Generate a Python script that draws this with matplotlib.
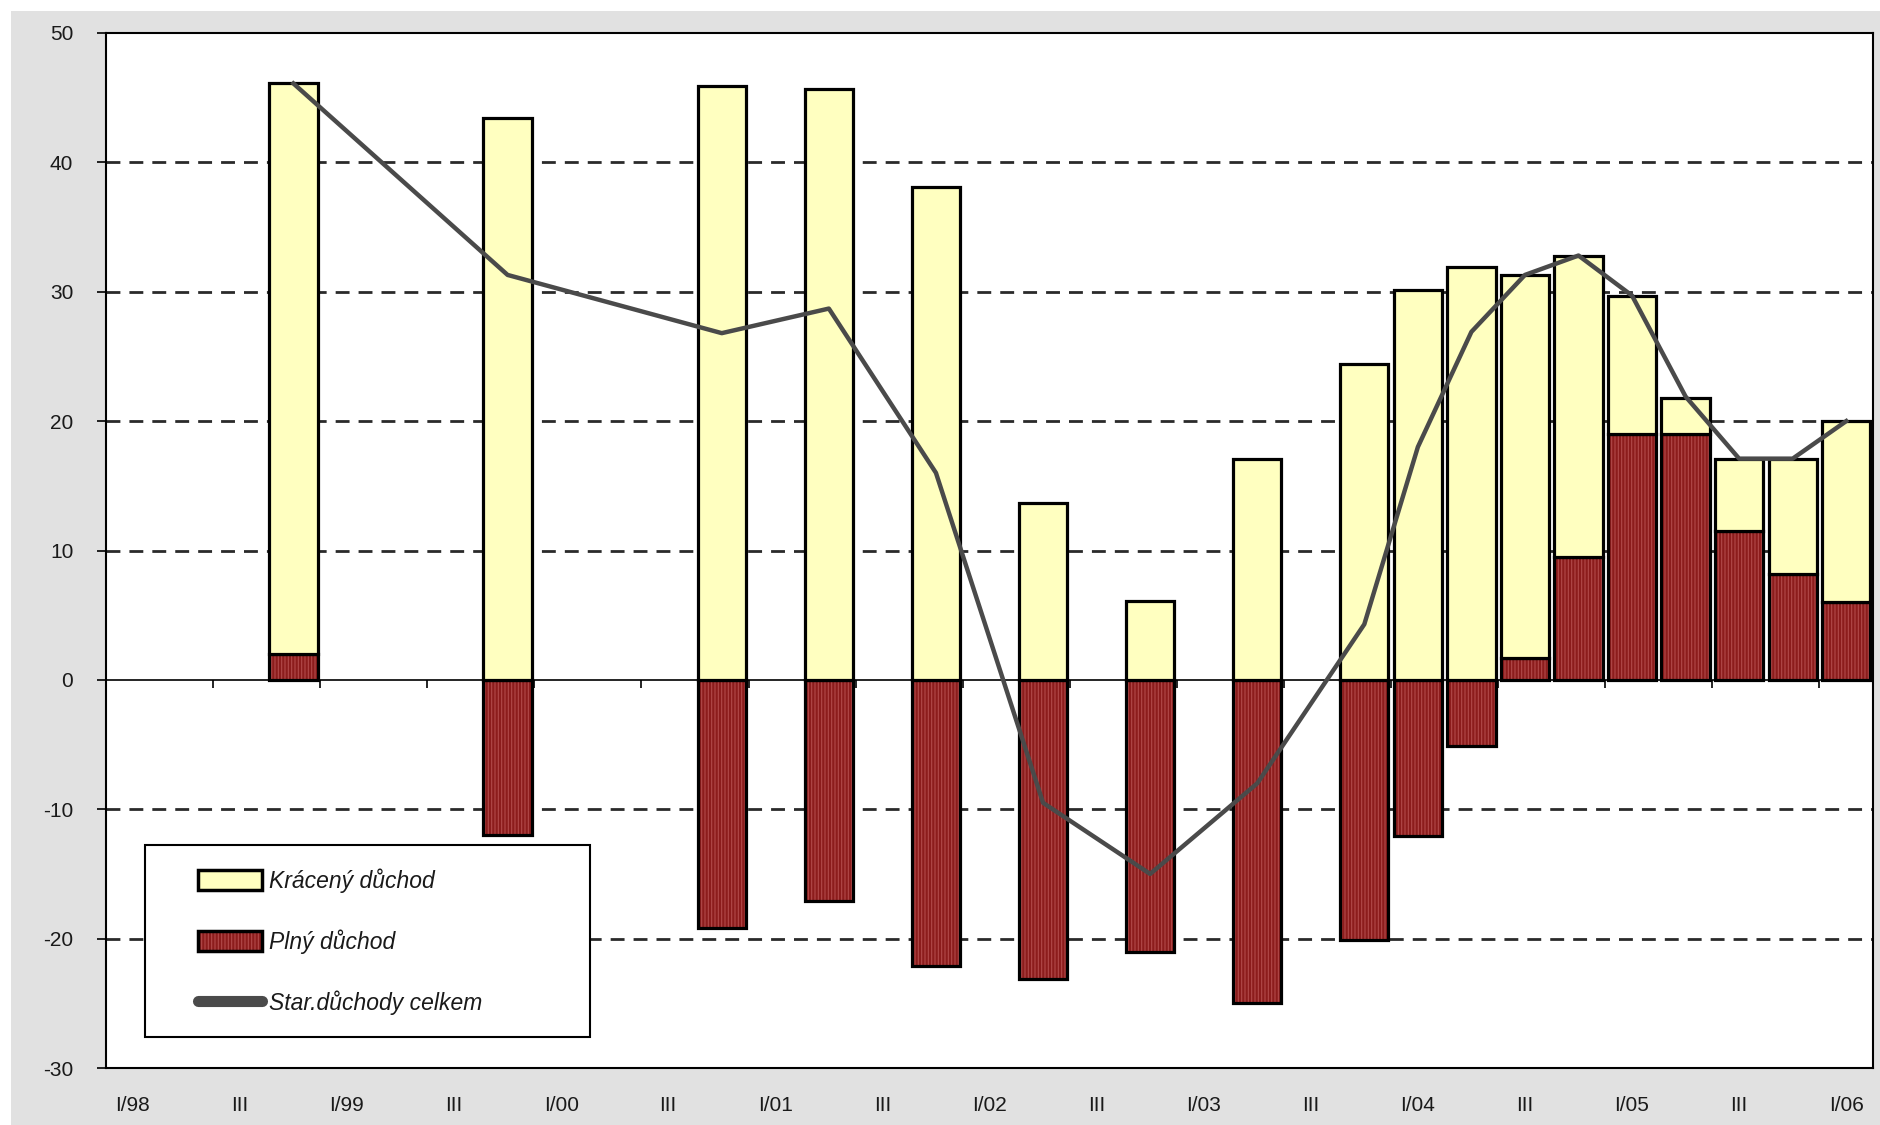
import numpy as np
import matplotlib.pyplot as plt
from matplotlib.patches import Patch, Rectangle
from matplotlib.lines import Line2D

plt.rcParams['font.family'] = ['Liberation Sans', 'DejaVu Sans']
plt.rcParams['hatch.linewidth'] = 0.8
plt.rcParams['axes.unicode_minus'] = False

# all quarters on the category axis, I/98 .. I/06
quarters = [f"{q}/{y:02d}" for y in [98, 99, 0, 1, 2, 3, 4, 5] for q in ["I", "II", "III", "IV"]] + ["I/06"]
tick_labels = ["I/98", "III", "I/99", "III", "I/00", "III", "I/01", "III", "I/02",
               "III", "I/03", "III", "I/04", "III", "I/05", "III", "I/06"]

# quarters with data
bar_quarters = ["IV/98", "IV/99", "IV/00", "II/01", "IV/01", "II/02", "IV/02", "II/03", "IV/03",
                "I/04", "II/04", "III/04", "IV/04", "I/05", "II/05", "III/05", "IV/05", "I/06"]
plny = [2.0, -12.0, -19.2, -17.1, -22.1, -23.1, -21.0, -25.0, -20.1,
        -12.1, -5.1, 1.7, 9.5, 19.0, 19.0, 11.5, 8.2, 6.0]
kraceny = [44.1, 43.4, 45.9, 45.7, 38.1, 13.7, 6.1, 17.1, 24.4,
           30.1, 31.9, 29.6, 23.3, 10.7, 2.8, 5.6, 8.9, 14.0]
celkem = [46.1, 31.3, 26.8, 28.7, 16.0, -9.5, -15.0, -8.0, 4.3,
          18.0, 26.9, 31.3, 32.8, 29.7, 21.9, 17.1, 17.1, 20.0]

YELLOW = '#ffffc0'
RED = '#8c1c1c'
STRIPE = '#b24a4a'
LINE = '#4a4a4a'
W, H = 1881, 1125

fig = plt.figure(figsize=(W / 100, H / 100), dpi=100, facecolor='white')
fig.patches.append(Rectangle((11 / W, 0), 1, 1 - 11 / H, transform=fig.transFigure,
                             facecolor='#e1e1e1', edgecolor='none', zorder=-10))
ax = fig.add_axes([106 / W, 57 / H, 1767 / W, 1035 / H])
ax.set_facecolor('white')

x = np.array([quarters.index(q) for q in bar_quarters])
plny = np.array(plny)
kr_bottom = np.where(plny > 0, plny, 0)

# gridlines and zero axis
for lev in [-20, -10, 10, 20, 30, 40]:
    ax.axhline(lev, color='#2a2a2a', lw=2, ls=(0, (5, 3.25)), zorder=1)
ax.axhline(0, color='black', lw=1.2, zorder=1.5)
ax.vlines(np.arange(1.5, 32, 2), -0.6, 0, color='black', lw=1.2, zorder=1.5)

# bars
ax.bar(x, plny, width=0.9, color=RED, edgecolor=STRIPE, linewidth=0, hatch='|||||', zorder=2)
ax.bar(x, plny, width=0.9, fill=False, edgecolor='black', linewidth=2.3, zorder=2.1)
ax.bar(x, kraceny, bottom=kr_bottom, width=0.9, color=YELLOW, edgecolor='black',
       linewidth=2.3, zorder=2.1)
ax.plot(x, celkem, color=LINE, lw=3.2, zorder=3)

ax.set_xlim(-0.5, 32.5)
ax.set_ylim(-30, 50)
ax.set_xticks(range(0, 33, 2))
ax.set_xticklabels(tick_labels)
ax.set_yticks(range(-30, 51, 10))
ax.tick_params(axis='x', length=0, pad=20, labelsize=15, labelcolor='#1a1a1a')
ax.tick_params(axis='y', length=6.5, width=1.2, pad=17, labelsize=15, labelcolor='#1a1a1a')
for s in ax.spines.values():
    s.set_linewidth(1.5)
    s.set_color('black')

# legend with its own frame
ax.add_patch(Rectangle((0.0221, 0.030), 0.252, 0.1855, transform=ax.transAxes,
                       facecolor='white', edgecolor='black', lw=1.5, zorder=4))
handles = [
    Patch(facecolor=YELLOW, edgecolor='black', lw=2.5),
    (Patch(facecolor=RED, edgecolor=STRIPE, hatch='|||||', lw=0),
     Patch(fill=False, edgecolor='black', lw=2.5)),
    Line2D([], [], color=LINE, lw=8, solid_capstyle='round'),
]
leg = ax.legend(handles, ["Krácený důchod", "Plný důchod", "Star.důchody celkem"],
                loc='upper left', bbox_to_anchor=(0.052, 0.193), frameon=False,
                borderpad=0, borderaxespad=0, labelspacing=1.59, handlelength=2.8,
                handleheight=1.0, handletextpad=0.3,
                prop={'size': 16.5, 'style': 'italic'})
leg.set_zorder(5)
for t in leg.get_texts():
    t.set_color('#1a1a1a')

fig.savefig('out.png', dpi=100, facecolor=fig.get_facecolor())
